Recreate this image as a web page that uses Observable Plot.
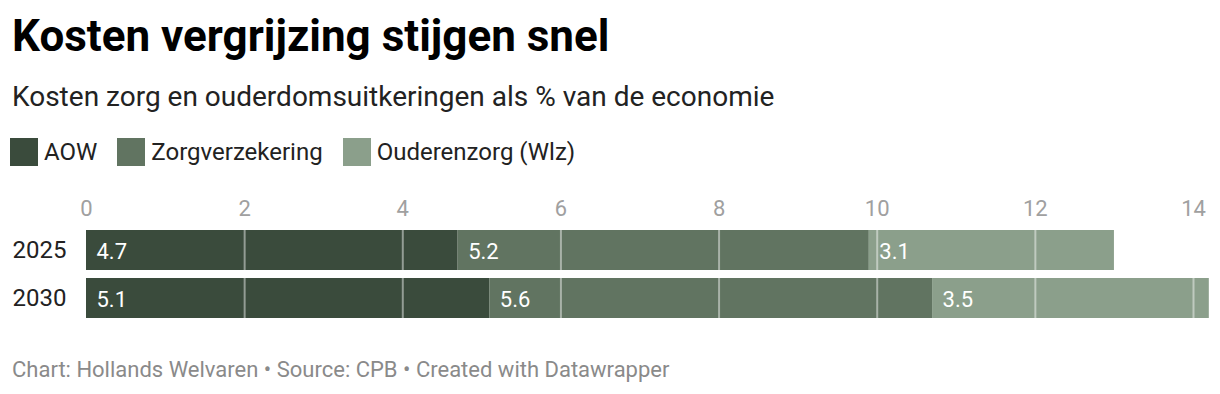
<!DOCTYPE html>
<html>
<head>
<meta charset="utf-8">
<script src="https://cdn.jsdelivr.net/npm/d3@7"></script>
<script src="https://cdn.jsdelivr.net/npm/@observablehq/plot@0.6"></script>
<style>
  html, body { margin: 0; padding: 0; background: #fff; }
  body { width: 1220px; height: 394px; position: relative; overflow: hidden; font-family: Roboto, "Noto Sans", sans-serif; }
  .abs { position: absolute; left: 12px; line-height: 1; white-space: nowrap; }
  #title { top: 14px; font-size: 44px; font-weight: 700; color: #000; }
  #subtitle { top: 83px; font-size: 28px; color: #222; }
  #legend { top: 138px; left: 10px; display: flex; align-items: center; font-size: 24px; color: #222; }
  .item { display: flex; align-items: center; margin-right: 20px; }
  .sw { width: 28px; height: 28px; margin-right: 6px; }
  #chart { position: absolute; top: 185px; left: 0; }
  #footer { top: 359px; font-size: 22px; color: #8a8a8a; }
</style>
</head>
<body>
<div id="title" class="abs">Kosten vergrijzing stijgen snel</div>
<div id="subtitle" class="abs">Kosten zorg en ouderdomsuitkeringen als % van de economie</div>
<div id="legend" class="abs"></div>
<div id="chart"></div>
<div id="footer" class="abs">Chart: Hollands Welvaren • Source: CPB • Created with Datawrapper</div>
<script>
const years = ["2025", "2030"];
const categories = ["AOW", "Zorgverzekering", "Ouderenzorg (Wlz)"];
const aow = [4.7, 5.1];
const zorgverzekering = [5.2, 5.6];
const ouderenzorg = [3.1, 3.5];
const colors = ["#3a4b3c", "#617461", "#8b9f8b"];
const xTicks = [0, 2, 4, 6, 8, 10, 12, 14];

const series = [aow, zorgverzekering, ouderenzorg];
const data = [];
years.forEach((y, i) => {
  categories.forEach((c, j) => data.push({year: y, category: c, value: series[j][i]}));
});

const legend = document.getElementById("legend");
categories.forEach((c, j) => {
  const it = document.createElement("div");
  it.className = "item";
  it.innerHTML = `<div class="sw" style="background:${colors[j]}"></div><span>${c}</span>`;
  legend.appendChild(it);
});

const chart = Plot.plot({
  width: 1220,
  height: 133,
  marginTop: 45,
  marginBottom: 0,
  marginLeft: 86,
  marginRight: 27,
  style: {fontFamily: "Roboto, sans-serif", overflow: "visible"},
  x: {domain: [0, 14]},
  y: {domain: years, paddingInner: 1/6, paddingOuter: 0},
  color: {domain: categories, range: colors},
  marks: [
    Plot.barX(data, Plot.stackX({x: "value", y: "year", fill: "category", order: null})),
    Plot.gridX(xTicks.filter(d => d > 0), {stroke: "#ffffff", strokeOpacity: 0.45, strokeWidth: 2}),
    Plot.text(data, Plot.stackX1({x: "value", y: "year", text: d => d.value.toFixed(1), textAnchor: "start", dx: 10, dy: 1, fill: "#fff", fontSize: 22, order: null})),
    Plot.axisX({anchor: "top", ticks: xTicks, tickSize: 0, tickPadding: 15, fontSize: 22, fill: "#a0a0a0", label: null}),
    Plot.axisY({tickSize: 0, tickPadding: 20, fontSize: 24, fill: "#222", label: null})
  ]
});
document.getElementById("chart").appendChild(chart);
</script>
</body>
</html>
